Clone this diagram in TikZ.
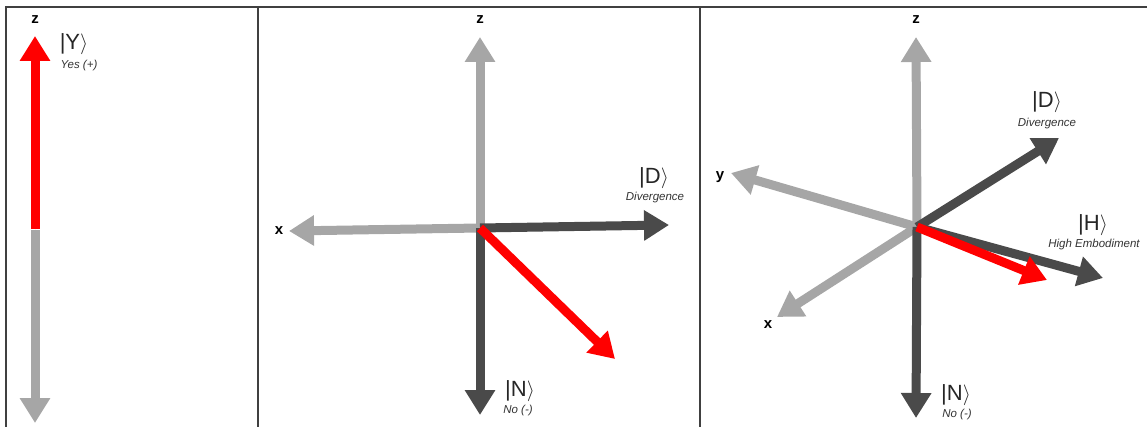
\documentclass[tikz,border=0pt]{standalone}
\usepackage{fontspec}
\setmainfont{Liberation Sans}
\usetikzlibrary{arrows.meta}
\definecolor{lgray}{HTML}{A6A6A6}
\definecolor{dgray}{HTML}{4A4A4A}
\definecolor{vred}{HTML}{FF0000}
\tikzset{
  axis/.style={line width=9pt,-{Triangle[width=29pt,length=25pt]}},
  light/.style={axis,draw=lgray,fill=lgray},
  dark/.style={axis,draw=dgray,fill=dgray},
  redv/.style={axis,draw=vred,fill=vred},
  axlab/.style={font=\bfseries\fontsize{15}{16}\selectfont,inner sep=0pt},
  ket/.style={font=\fontsize{22}{24}\selectfont,inner sep=0pt,text=black!85},
  sub/.style={font=\itshape\fontsize{11.5}{12}\selectfont,inner sep=0pt,text=black!80},
  frame/.style={draw=black!75,line width=1.3pt}
}
\begin{document}
\begin{tikzpicture}[x=1pt,y=-1pt]
\useasboundingbox (0,0) rectangle (1147,427);
\draw[frame] (6,430) -- (6,7) -- (1147,7);
\draw[frame] (258,7) -- (258,430);
\draw[frame] (700,7) -- (700,430);

% Panel 1
\coordinate (p1c) at (35,230);
\coordinate (p1t) at (35,36);
\coordinate (p1b) at (35,423);
\draw[light] (p1c) -- (p1b);
\draw[redv] ([yshift=0.5pt]p1c) -- (p1t);
\node[axlab] (p1z) at (35,20) {z};
\node[ket] (ky) at (74,44) {|Y$\rangle$};
\node[sub] (yes) at (79,66) {Yes (+)};

% Panel 2
\coordinate (c2) at (480,228);
\coordinate (z2) at (480,37);
\coordinate (x2) at (289,231);
\coordinate (d2) at (669,225);
\coordinate (n2) at (480,415);
\coordinate (r2) at (615,359);
\draw[light] (c2) -- (z2);
\draw[light] (c2) -- (x2);
\draw[dark] (c2) -- (d2);
\draw[dark] (c2) -- (n2);
\draw[redv] (c2) -- (r2);
\node[axlab] (z2l) at (480,20) {z};
\node[axlab] (x2l) at (279,231) {x};
\node[ket] (kd2) at (654,178) {|D$\rangle$};
\node[sub] (dv2) at (655,198) {Divergence};
\node[ket] (kn2) at (520,391) {|N$\rangle$};
\node[sub] (no2) at (518,411) {No (-)};

% Panel 3
\coordinate (c3) at (917,227);
\coordinate (z3) at (916,37);
\coordinate (n3) at (916,418);
\coordinate (y3) at (731,173);
\coordinate (x3) at (777,317);
\coordinate (d3) at (1059,138);
\coordinate (h3) at (1103,278);
\coordinate (r3) at (1047,280);
\draw[light] (c3) -- (z3);
\draw[light] (c3) -- (y3);
\draw[light] (c3) -- (x3);
\draw[dark] (c3) -- (n3);
\draw[dark] (c3) -- (d3);
\draw[dark] (c3) -- (h3);
\draw[redv] (c3) -- (r3);
\node[axlab] (z3l) at (916,20) {z};
\node[axlab] (y3l) at (720,177) {y};
\node[axlab] (x3l) at (768,325) {x};
\node[ket] (kd3) at (1047,102) {|D$\rangle$};
\node[sub] (dv3) at (1047,124) {Divergence};
\node[ket] (kh3) at (1093,225) {|H$\rangle$};
\node[sub] (he3) at (1094,245) {High Embodiment};
\node[ket] (kn3) at (956,395) {|N$\rangle$};
\node[sub] (no3) at (957,415) {No (-)};
\end{tikzpicture}
\end{document}
